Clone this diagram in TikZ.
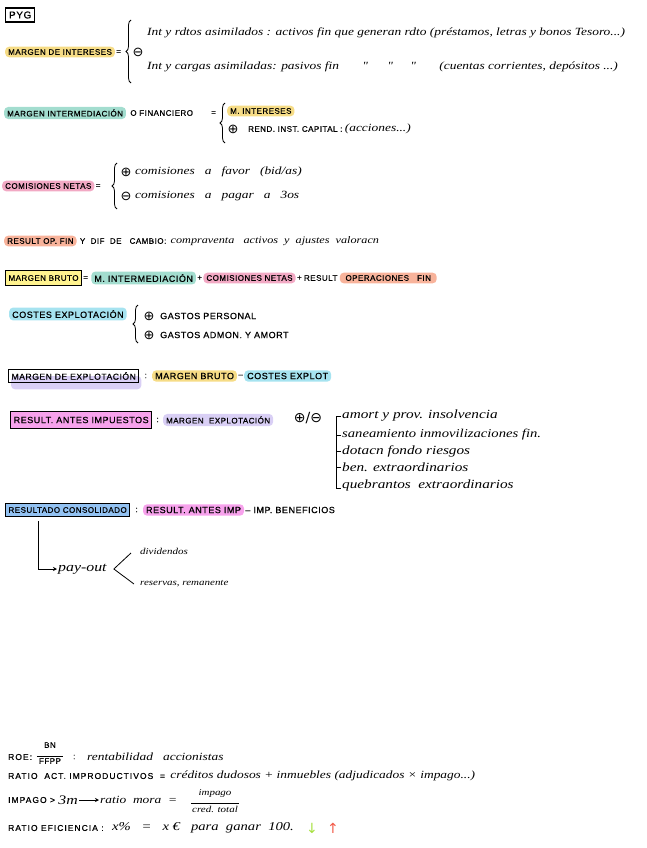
\documentclass[tikz,border=0pt]{standalone}
\usepackage{fontspec}
\setmainfont{Liberation Sans}
\newfontfamily\capsf[LetterSpace=6,FakeBold=0.6]{Liberation Sans}
\newfontfamily\capsw[LetterSpace=12,FakeBold=0.6]{Liberation Sans}
\newfontfamily\hand[FakeStretch=1.22]{Liberation Serif}
\newfontfamily\symf{DejaVu Sans}
\usetikzlibrary{calc,decorations.pathreplacing,arrows.meta,backgrounds}
\definecolor{hyel}{HTML}{F6DC86}
\definecolor{hteal}{HTML}{A3DDCF}
\definecolor{hpink}{HTML}{F2A9C4}
\definecolor{hora}{HTML}{F8B39B}
\definecolor{hbyel}{HTML}{FFF38F}
\definecolor{hcyan}{HTML}{A6E3F0}
\definecolor{hlav}{HTML}{D9CFF5}
\definecolor{hmag}{HTML}{F7A2EC}
\definecolor{hblue}{HTML}{93C2F2}
\definecolor{agreen}{HTML}{A6E040}
\definecolor{ared}{HTML}{F25A48}
\begin{document}
\begin{tikzpicture}[x=1pt,y=-1pt,
 caps/.style={font=\capsf\fontsize{8}{9}\selectfont, inner sep=1pt, anchor=west},
 bigcaps/.style={font=\capsf\fontsize{9}{10}\selectfont, inner sep=1pt, anchor=west},
 widecaps/.style={font=\capsw\fontsize{8.5}{10}\selectfont, inner sep=1pt, anchor=west},
 hw/.style={font=\hand\itshape\fontsize{11}{12}\selectfont, inner sep=1pt, anchor=west},
 hwl/.style={font=\hand\itshape\fontsize{12.5}{14}\selectfont, inner sep=1pt, anchor=west},
 hwm/.style={font=\hand\itshape\fontsize{10}{11}\selectfont, inner sep=1pt, anchor=west},
 hws/.style={font=\hand\itshape\fontsize{9}{10}\selectfont, inner sep=1pt, anchor=west},
 hl/.style={fill=#1, rounded corners=4pt, inner xsep=3pt, inner ysep=2.5pt, anchor=west},
 boxd/.style={draw=black, line width=1.1pt, inner xsep=3pt, inner ysep=3pt, anchor=west},
 sym/.style={font=\symf\fontsize{13}{14}\selectfont, inner sep=0pt},
 brace/.style={decorate, decoration={brace, amplitude=5pt}, line width=0.8pt},
 ink/.style={line width=0.8pt, black}
]
\useasboundingbox (0,0) rectangle (646,848);

% PYG
\node[boxd, font=\capsf\fontsize{10}{11}\selectfont, inner sep=3.5pt] (pyg) at (5,15) {PYG};

% Margen de intereses
\node[caps, hl=hyel] (mi) at (5,52) {MARGEN DE INTERESES};
\node[caps] (eq1) at (mi.east) {=};
\draw[brace] (131,83) -- (131,20);
\node[sym] (m1) at (138,52) {⊖};
\node[hw] (l1) at (146,33) {Int y rdtos asimilados : activos fin que generan rdto (préstamos, letras y bonos Tesoro...)};
\node[hw] (l2) at (146,67) {Int y cargas asimiladas: pasivos fin \hspace{20pt}" \hspace{16pt}" \hspace{14pt}" \hspace{20pt}(cuentas corrientes, depósitos ...)};

% Margen intermediacion
\node[caps, hl=hteal] (mint) at (4,113) {MARGEN INTERMEDIACIÓN};
\node[caps] (ofin) at ($(mint.east)+(3,0)$) {O FINANCIERO};
\node[caps] (eq2) at (210,113) {=};
\draw[brace] (225,143) -- (225,103);
\node[caps, hl=hyel] (mint2) at (227,111) {M. INTERESES};
\node[sym] (p1) at (233,129) {⊕};
\node[caps] (rend) at (247,129) {REND. INST. CAPITAL :};
\node[hw] (acc) at (rend.east) {(acciones...)};

% Comisiones netas
\node[caps, hl=hpink] (cn) at (2,186) {COMISIONES NETAS};
\node[caps] (eq3) at (cn.east) {=};
\draw[brace] (117,209) -- (117,163);
\node[sym] (p2) at (126,172) {⊕};
\node[hw] (cf) at (134,172) {comisiones \ \ a \ \ favor \ \ (bid/as)};
\node[sym] (m2) at (126,196) {⊖};
\node[hw] (cp) at (134,196) {comisiones \ \ a \ \ pagar \ \ a \ \ 3os};

% Result op fin
\node[caps, hl=hora] (rof) at (4,241) {RESULT OP. FIN};
\node[caps] (ydif) at ($(rof.east)+(2,0)$) {Y \ DIF \ DE \ \ CAMBIO:};
\node[hwm] (cv) at ($(ydif.east)+(2,0)$) {compraventa \ \ activos \ y \ ajustes \ valoracn};

% Margen bruto
\node[caps, boxd, fill=hbyel, inner ysep=5pt] (mb) at (5,278) {MARGEN BRUTO};
\node[caps] (eq5) at (mb.east) {=};
\node[bigcaps, hl=hteal] (t1) at ($(eq5.east)+(2,0)$) {M. INTERMEDIACIÓN};
\node[caps] (pl1) at (t1.east) {+};
\node[caps, hl=hpink] (t2) at (pl1.east) {COMISIONES NETAS};
\node[caps] (pl2) at (t2.east) {+};
\node[caps] (t3a) at (pl2.east) {RESULT};
\node[caps, hl=hora] (t3) at ($(t3a.east)+(1,0)$) {\ OPERACIONES \ \ FIN \ };

% Costes explotacion
\node[bigcaps, hl=hcyan] (ce) at (9,314) {COSTES EXPLOTACIÓN};
\draw[brace] (138,343) -- (138,305);
\node[sym] (p3) at (149,316) {⊕};
\node[bigcaps] (gp) at (159,316) {GASTOS PERSONAL};
\node[sym] (p4) at (149,335) {⊕};
\node[bigcaps] (ga) at (159,335) {GASTOS ADMON. Y AMORT};

% Margen de explotacion
\node[boxd, font=\capsf\fontsize{8.6}{10}\selectfont] (mexp) at (8,376) {MARGEN DE EXPLOTACIÓN};
\begin{scope}[on background layer]
\fill[hlav, rounded corners=4pt] ($(mexp.south west)+(3,6)$) rectangle ($(mexp.east)+(2,0)$);
\end{scope}
\node[caps] (c7) at ($(mexp.east)+(4,0)$) {:};
\node[bigcaps, hl=hyel] (mb2) at ($(c7.east)+(4,0)$) {MARGEN BRUTO};
\node[caps] (mn7) at (mb2.east) {–};
\node[bigcaps, hl=hcyan] (ce2) at (mn7.east) {COSTES EXPLOT};

% Result antes impuestos
\node[boxd, fill=hmag, font=\capsf\fontsize{9}{11}\selectfont, inner ysep=5pt, line width=1.3pt] (rai) at (10,420) {RESULT. ANTES IMPUESTOS};
\node[caps] (c8) at ($(rai.east)+(3,0)$) {:};
\node[caps, hl=hlav] (me) at ($(c8.east)+(3,0)$) {MARGEN \ EXPLOTACIÓN};
\node[sym, font=\symf\fontsize{14}{15}\selectfont] (pm) at (308,418) {⊕/⊖};
\node[hwl] (i1) at (341,416) {amort y prov. insolvencia};
\node[hwl, font=\hand\itshape\fontsize{12}{13}\selectfont] (i2) at (341,435) {saneamiento inmovilizaciones fin.};
\node[hwl] (i3) at (341,451) {dotacn fondo riesgos};
\node[hwl] (i4) at (341,467) {ben. extraordinarios};
\node[hwl] (i5) at (341,485) {quebrantos \ extraordinarios};
\draw[ink] (i1.west) -- ++(-5,0) -- ($(i5.west)+(-5,3)$) -- ($(i5.west)+(0,3)$);
\foreach \n in {i2,i3,i4} \draw[ink] (\n.west) -- ++(-5,0);

% Resultado consolidado
\node[caps, boxd, fill=hblue, inner ysep=4pt] (rc) at (5,510) {RESULTADO CONSOLIDADO};
\node[caps] (c9) at ($(rc.east)+(4,0)$) {:};
\node[bigcaps, hl=hmag] (rai2) at ($(c9.east)+(4,0)$) {RESULT. ANTES IMP};
\node[bigcaps] (ib) at (rai2.east) {– IMP. BENEFICIOS};
\node[hw, font=\hand\itshape\fontsize{13}{14}\selectfont] (po) at (57,569) {pay-out};
\draw[ink, -{Stealth[length=4pt,width=4pt]}] ($(rc.south west)+(33,4)$) |- (po.west);
\node[hws] (div) at (139,551) {dividendos};
\node[hws] (res) at (139,584) {reservas, remanente};
\coordinate (vv) at ($(po.east)+(6,0)$);
\draw[ink] ($(div.west)+(-8,2)$) -- (vv) -- ($(res.west)+(-5,0)$);

% Bottom ratios
\node[widecaps] (roe) at (7,757) {ROE:};
\node[caps, anchor=center] (bn) at (50,745) {BN};
\node[caps, anchor=center] (ffpp) at (50,761) {FFPP};
\draw[ink, line width=0.6pt] ($(ffpp.north west)+(-1,-1)$) -- ($(ffpp.north east)+(1,-1)$);
\node[caps] (c10) at (72,757) {:};
\node[hw] (rent) at (86,757) {rentabilidad \ \ accionistas};

\node[widecaps] (rai3) at (7,776) {RATIO \ ACT. IMPRODUCTIVOS \ =};
\node[hw] (cd) at ($(rai3.east)+(3,0)$) {créditos dudosos + inmuebles (adjudicados × impago...)};

\node[widecaps] (imp) at (7,800) {IMPAGO >};
\node[hw, font=\hand\itshape\fontsize{13}{14}\selectfont] (tm) at ($(imp.east)+(1,0)$) {3m};
\node[hw] (rm) at ($(tm.east)+(20,0)$) {ratio \ mora \ =};
\draw[ink, -{Stealth[length=4pt,width=4pt]}] (tm.east) -- (rm.west);
\node[hws, anchor=center] (ip) at (215,793) {impago};
\node[hws, anchor=center] (ct) at (215,809) {cred. total};
\draw[ink, line width=0.6pt] ($(ct.north west)+(0,-1)$) -- ($(ct.north east)+(0,-1)$);

\node[widecaps] (re) at (7,828) {RATIO EFICIENCIA :};
\node[hw, font=\hand\itshape\fontsize{12}{13}\selectfont] (xp) at ($(re.east)+(6,0)$) {x\% \ \ = \ \ x € \ \ para \ ganar \ 100.};
\node[sym, font=\symf\fontsize{14}{15}\selectfont, text=agreen] (dn) at (312,828) {↓};
\node[sym, font=\symf\fontsize{14}{15}\selectfont, text=ared] (up) at (333,828) {↑};
\end{tikzpicture}
\end{document}
